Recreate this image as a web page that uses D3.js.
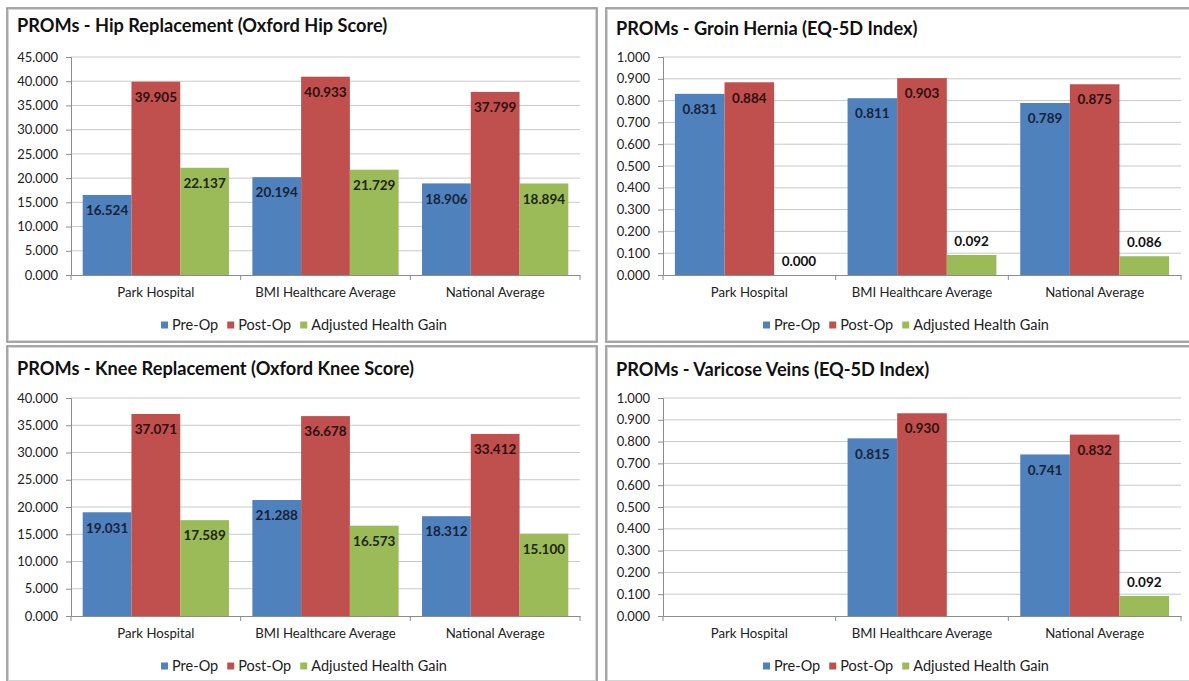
<!DOCTYPE html>
<html><head><meta charset="utf-8">
<script src="https://cdn.jsdelivr.net/npm/d3@7"></script>
<style>body{margin:0;background:#fff;overflow:hidden} svg{display:block}</style>
</head><body><svg id="c" width="1189" height="681"></svg>
<script>
// ---------- data ----------
const categories = ["Park Hospital", "BMI Healthcare Average", "National Average"];
const seriesNames = ["Pre-Op", "Post-Op", "Adjusted Health Gain"];

const hipPre  = [16.524, 20.194, 18.906];
const hipPost = [39.905, 40.933, 37.799];
const hipGain = [22.137, 21.729, 18.894];
const hipTicks = [0, 5, 10, 15, 20, 25, 30, 35, 40, 45];

const herniaPre  = [0.831, 0.811, 0.789];
const herniaPost = [0.884, 0.903, 0.875];
const herniaGain = [0.000, 0.092, 0.086];
const herniaTicks = [0, 0.1, 0.2, 0.3, 0.4, 0.5, 0.6, 0.7, 0.8, 0.9, 1.0];

const kneePre  = [19.031, 21.288, 18.312];
const kneePost = [37.071, 36.678, 33.412];
const kneeGain = [17.589, 16.573, 15.100];
const kneeTicks = [0, 5, 10, 15, 20, 25, 30, 35, 40];

const veinsPre  = [null, 0.815, 0.741];
const veinsPost = [null, 0.930, 0.832];
const veinsGain = [null, null, 0.092];
const veinsTicks = [0, 0.1, 0.2, 0.3, 0.4, 0.5, 0.6, 0.7, 0.8, 0.9, 1.0];

// ---------- styles / layout ----------
const colors = ["#4f81bd", "#c0504d", "#9bbb59"];
const labelColors = ["#17233a", "#2e0f0f", "#1c260c"];
const FONT = "Lato, 'Open Sans', sans-serif";

const panels = [
  {title: "PROMs - Hip Replacement (Oxford Hip Score)", series: [hipPre, hipPost, hipGain], ticks: hipTicks,
   box: [7, 8, 590, 334], plot: [71, 580, 275], titleY: 26},
  {title: "PROMs - Groin Hernia (EQ-5D Index)", series: [herniaPre, herniaPost, herniaGain], ticks: herniaTicks,
   box: [606, 8, 600, 334], plot: [663, 1181, 275], titleY: 29},
  {title: "PROMs - Knee Replacement (Oxford Knee Score)", series: [kneePre, kneePost, kneeGain], ticks: kneeTicks,
   box: [7, 346, 590, 336], plot: [71, 580, 616], titleY: 369},
  {title: "PROMs - Varicose Veins (EQ-5D Index)", series: [veinsPre, veinsPost, veinsGain], ticks: veinsTicks,
   box: [606, 346, 600, 336], plot: [663, 1181, 616], titleY: 370}
];

const svg = d3.select("#c");
const fmt = d3.format(".3f");

panels.forEach(p => {
  const [bx, by, bw, bh] = p.box;
  const [px0, px1, py0] = p.plot;
  const g = svg.append("g");

  g.append("rect").attr("x", bx).attr("y", by).attr("width", bw).attr("height", bh)
    .attr("fill", "#fff").attr("stroke", "#8a8a8a").attr("stroke-width", 1.5);
  g.append("rect").attr("x", bx + 1.5).attr("y", by + 1.5).attr("width", bw - 3).attr("height", bh - 3)
    .attr("fill", "none").attr("stroke", "#d4d4d4").attr("stroke-width", 1);

  g.append("text").attr("x", bx + 10).attr("y", p.titleY).attr("dy", "0.35em")
    .attr("font-family", FONT).attr("font-weight", 700).attr("font-size", 18.2)
    .attr("fill", "#111").text(p.title);

  const yMax = p.ticks[p.ticks.length - 1];
  const y = d3.scaleLinear().domain([0, yMax]).range([py0, py0 - 218]);
  const x0 = d3.scaleBand().domain(categories).range([px0, px1]).paddingInner(0).paddingOuter(0);
  const x1 = d3.scaleBand().domain(d3.range(3)).range([0, x0.bandwidth()]).paddingInner(0).paddingOuter(0.24);

  // gridlines
  g.append("g").selectAll("line").data(p.ticks.filter(t => t > 0)).join("line")
    .attr("x1", px0).attr("x2", px1).attr("y1", d => y(d)).attr("y2", d => y(d))
    .attr("stroke", "#c9c9c9").attr("stroke-width", 1);

  // y axis
  const yAxis = d3.axisLeft(y).tickValues(p.ticks).tickFormat(fmt).tickSize(5).tickPadding(8);
  const ya = g.append("g").attr("transform", `translate(${px0},0)`).call(yAxis);
  ya.select(".domain").attr("stroke", "#8c8c8c");
  ya.selectAll(".tick line").attr("stroke", "#8c8c8c");
  ya.selectAll("text").attr("font-family", FONT).attr("font-size", 13).attr("fill", "#222");

  // bars
  p.series.forEach((vals, si) => {
    const items = categories.map((c, i) => ({c, v: vals[i]})).filter(d => d.v !== null);
    g.append("g").selectAll("rect").data(items).join("rect")
      .attr("x", d => x0(d.c) + x1(si)).attr("width", x1.bandwidth())
      .attr("y", d => y(d.v)).attr("height", d => y(0) - y(d.v))
      .attr("fill", colors[si]);
  });

  // x axis
  const xAxis = d3.axisBottom(x0).tickSize(0).tickPadding(13);
  const xa = g.append("g").attr("transform", `translate(0,${py0})`).call(xAxis);
  xa.select(".domain").attr("stroke", "#8c8c8c");
  xa.selectAll("text").attr("font-family", FONT).attr("font-size", 13.2).attr("fill", "#222");
  const bounds = categories.map(c => x0(c)).concat([x0(categories[2]) + x0.bandwidth()]);
  g.append("g").selectAll("line").data(bounds).join("line")
    .attr("x1", d => d).attr("x2", d => d).attr("y1", py0).attr("y2", py0 + 5)
    .attr("stroke", "#8c8c8c");

  // labels
  p.series.forEach((vals, si) => {
    const items = categories.map((c, i) => ({c, v: vals[i]})).filter(d => d.v !== null);
    g.append("g").selectAll("text").data(items).join("text")
      .attr("x", d => x0(d.c) + x1(si) + x1.bandwidth() / 2)
      .attr("y", d => {
        const h = y(0) - y(d.v);
        return h > 30 ? y(d.v) + 15.5 : y(d.v) - 14;
      })
      .attr("dy", "0.35em").attr("text-anchor", "middle")
      .attr("font-family", FONT).attr("font-weight", 700).attr("font-size", 13.5)
      .attr("fill", d => (y(0) - y(d.v)) > 30 ? labelColors[si] : "#111")
      .text(d => fmt(d.v));
  });

  // legend
  const legY = py0 + 50;
  const leg = g.append("g");
  let cx = 0;
  seriesNames.forEach((s, si) => {
    const it = leg.append("g").attr("transform", `translate(${cx},0)`);
    it.append("rect").attr("x", 0).attr("y", -3.5).attr("width", 7).attr("height", 7).attr("fill", colors[si]);
    const t = it.append("text").attr("x", 11).attr("dy", "0.35em")
      .attr("font-family", FONT).attr("font-size", 14.5).attr("fill", "#222").text(s);
    cx += 11 + t.node().getComputedTextLength() + 9;
  });
  const legW = cx - 9;
  const center = bx + bw / 2 + (bw > 595 ? 0 : 2);
  leg.attr("transform", `translate(${center - legW / 2},${legY})`);
});
</script>
</body></html>
